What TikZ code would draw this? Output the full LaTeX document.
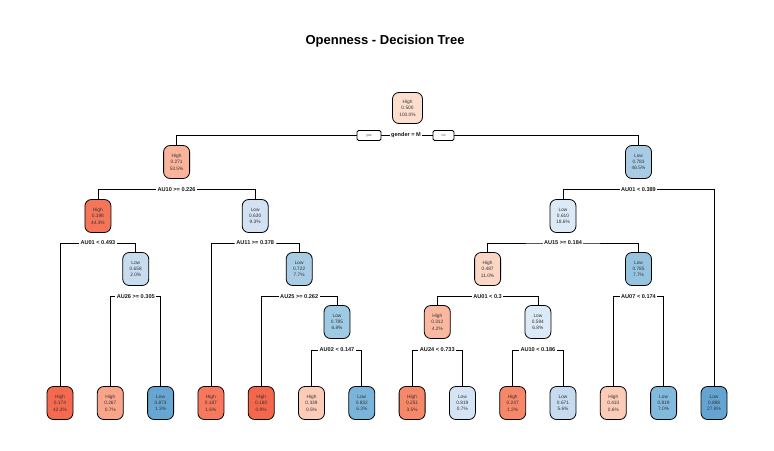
\documentclass[tikz,border=0pt]{standalone}
\usepackage{fontspec}
\setmainfont{Liberation Sans}
\definecolor{cA}{RGB}{253,222,206}
\definecolor{cB}{RGB}{250,180,155}
\definecolor{cC}{RGB}{168,204,228}
\definecolor{cD}{RGB}{245,117,90}
\definecolor{cE}{RGB}{210,226,242}
\definecolor{cF}{RGB}{220,233,246}
\definecolor{cG}{RGB}{200,220,240}
\definecolor{cH}{RGB}{168,204,228}
\definecolor{cI}{RGB}{252,214,196}
\definecolor{cJ}{RGB}{150,196,224}
\definecolor{cK}{RGB}{158,202,227}
\definecolor{cL}{RGB}{250,184,160}
\definecolor{cM}{RGB}{220,233,246}
\definecolor{lA}{RGB}{245,105,78}
\definecolor{lB}{RGB}{250,165,138}
\definecolor{lC}{RGB}{103,166,210}
\definecolor{lD}{RGB}{247,120,92}
\definecolor{lE}{RGB}{245,103,76}
\definecolor{lF}{RGB}{252,204,185}
\definecolor{lG}{RGB}{122,180,218}
\definecolor{lH}{RGB}{246,135,105}
\definecolor{lI}{RGB}{212,228,244}
\definecolor{lJ}{RGB}{246,135,105}
\definecolor{lK}{RGB}{198,219,239}
\definecolor{lL}{RGB}{252,204,185}
\definecolor{lM}{RGB}{130,186,222}
\definecolor{lN}{RGB}{100,164,210}
\begin{document}
\begin{tikzpicture}[x=1pt,y=-1pt,
  tnode/.style={draw=black, line width=0.8pt, rounded corners=6.5pt, minimum width=26pt, minimum height=33pt, inner sep=0pt, align=center, font=\fontsize{4.8}{6.3}\selectfont, text=black!80},
  splitlab/.style={fill=white, inner xsep=1.5pt, inner ysep=1pt, font=\bfseries\fontsize{5.6}{6}\selectfont, text=black!90},
  yn/.style={draw=black, fill=white, rounded corners=1.5pt, minimum height=10pt, line width=0.8pt, inner sep=0pt, font=\fontsize{3.5}{4}\selectfont, text=black!70},
  conn/.style={line width=0.8pt, draw=black}]
\useasboundingbox (0,0) rectangle (774,450);
\node[font=\bfseries\fontsize{13}{15}\selectfont] (title) at (385,41) {Openness - Decision Tree};
% internal nodes
\node[tnode, fill=cA, minimum width=30pt, minimum height=31pt] (root) at (407.5,108) {High\\0.500\\100.0\%};
\node[tnode, fill=cB] (n2) at (176.6,162) {High\\0.271\\53.5\%};
\node[tnode, fill=cC] (n3) at (638.5,162) {Low\\0.783\\46.5\%};
\node[tnode, fill=cD] (n4) at (97.9,216) {High\\0.198\\44.3\%};
\node[tnode, fill=cE] (n5) at (255.2,216) {Low\\0.630\\9.3\%};
\node[tnode, fill=cF] (n6) at (563,216) {Low\\0.610\\18.6\%};
\node[tnode, fill=cG] (n9) at (135.75,269) {Low\\0.658\\2.0\%};
\node[tnode, fill=cH] (n11) at (299.2,269) {Low\\0.722\\7.7\%};
\node[tnode, fill=cI] (n12) at (487.6,269) {High\\0.487\\11.0\%};
\node[tnode, fill=cJ] (n13) at (638.5,269) {Low\\0.785\\7.7\%};
\node[tnode, fill=cK] (n23) at (337,322) {Low\\0.785\\6.8\%};
\node[tnode, fill=cL] (n24) at (437.3,322) {High\\0.312\\4.2\%};
\node[tnode, fill=cM] (n25) at (537.9,322) {Low\\0.594\\6.8\%};
% leaves
\node[tnode, fill=lA] (f1) at (60,403) {High\\0.174\\42.3\%};
\node[tnode, fill=lB] (f2) at (110.3,403) {High\\0.267\\0.7\%};
\node[tnode, fill=lC] (f3) at (160.6,403) {Low\\0.873\\1.3\%};
\node[tnode, fill=lD] (f4) at (210.9,403) {High\\0.187\\1.6\%};
\node[tnode, fill=lE] (f5) at (261.2,403) {High\\0.180\\0.9\%};
\node[tnode, fill=lF] (f6) at (311.5,403) {High\\0.339\\0.5\%};
\node[tnode, fill=lG] (f7) at (361.8,403) {Low\\0.832\\6.3\%};
\node[tnode, fill=lH] (f8) at (412.1,403) {High\\0.251\\3.5\%};
\node[tnode, fill=lI] (f9) at (462.4,403) {Low\\0.819\\0.7\%};
\node[tnode, fill=lJ] (f10) at (512.7,403) {High\\0.247\\1.2\%};
\node[tnode, fill=lK] (f11) at (563,403) {Low\\0.671\\5.6\%};
\node[tnode, fill=lL] (f12) at (613.3,403) {High\\0.410\\0.6\%};
\node[tnode, fill=lM] (f13) at (663.6,403) {Low\\0.819\\7.0\%};
\node[tnode, fill=lN] (f14) at (714,403) {Low\\0.888\\27.8\%};
% split points
\coordinate (s1) at (407.5,135.5);
\coordinate (s2) at (176.6,189.3);
\coordinate (s3) at (638.5,189.3);
\coordinate (s4) at (97.9,243);
\coordinate (s5) at (255.2,243);
\coordinate (s6) at (563,243);
\coordinate (s9) at (135.75,296.7);
\coordinate (s11) at (299.2,296.7);
\coordinate (s12) at (487.6,296.7);
\coordinate (s13) at (638.5,296.7);
\coordinate (s23) at (337,350);
\coordinate (s24) at (437.3,350);
\coordinate (s25) at (537.9,350);
% connectors
\draw[conn] (n2.north) |- (s1) -| (n3.north);
\draw[conn] (n4.north) |- (s2) -| (n5.north);
\draw[conn] (n6.north) |- (s3) -| (f14.north);
\draw[conn] (f1.north) |- (s4) -| (n9.north);
\draw[conn] (f4.north) |- (s5) -| (n11.north);
\draw[conn] (n12.north) |- (s6) -| (n13.north);
\draw[conn] (f2.north) |- (s9) -| (f3.north);
\draw[conn] (f5.north) |- (s11) -| (n23.north);
\draw[conn] (n24.north) |- (s12) -| (n25.north);
\draw[conn] (f12.north) |- (s13) -| (f13.north);
\draw[conn] (f6.north) |- (s23) -| (f7.north);
\draw[conn] (f8.north) |- (s24) -| (f9.north);
\draw[conn] (f10.north) |- (s25) -| (f11.north);
% split labels
\node[splitlab] (l1) at (406,135.5) {gender = M};
\node[yn, minimum width=24pt] (yes) at (369,135.5) {yes};
\node[yn, minimum width=21pt] (no) at (443.5,135.5) {no};
\node[splitlab] (l2) at (s2) {AU10 >= 0.226};
\node[splitlab] (l3) at (s3) {AU01 < 0.389};
\node[splitlab] (l4) at (s4) {AU01 < 0.493};
\node[splitlab] (l5) at (s5) {AU11 >= 0.378};
\node[splitlab] (l6) at (s6) {AU15 >= 0.184};
\node[splitlab] (l9) at (s9) {AU26 >= 0.305};
\node[splitlab] (l11) at (s11) {AU25 >= 0.262};
\node[splitlab] (l12) at (s12) {AU01 < 0.3};
\node[splitlab] (l13) at (s13) {AU07 < 0.174};
\node[splitlab] (l23) at (s23) {AU02 < 0.147};
\node[splitlab] (l24) at (s24) {AU24 < 0.733};
\node[splitlab] (l25) at (s25) {AU10 < 0.186};
\end{tikzpicture}
\end{document}
